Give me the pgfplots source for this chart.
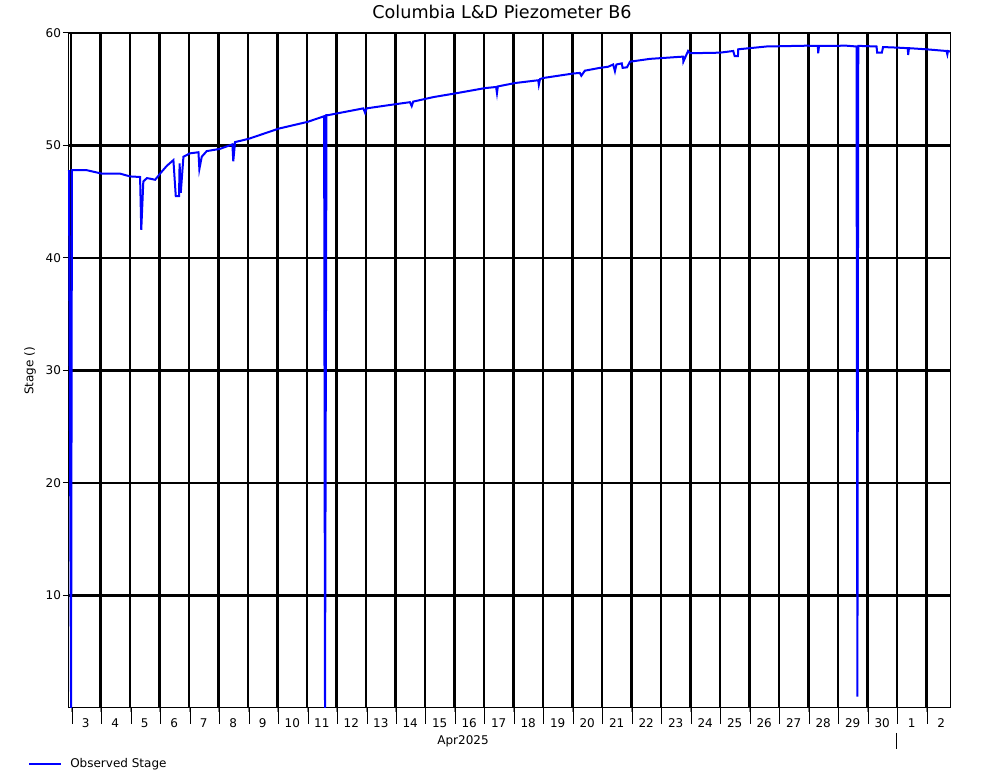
\documentclass[border=0pt]{standalone}
\usepackage{pgfplots}
\pgfplotsset{compat=1.18}
\usepackage{fontspec}
\setmainfont{DejaVu Sans}

\begin{document}
\begin{tikzpicture}
  \begin{axis}
    [
      at={(0,0)}, anchor=south west,
      scale only axis,
      width=660.75pt, height=506.25pt,
      xmin=-0.07, xmax=29.8,
      ymin=0, ymax=60,
      clip=false,
      axis line style={line width=0.75pt},
      xtick={0.5,1.5,...,29.5},
      xticklabels={3,4,5,6,7,8,9,10,11,12,13,14,15,16,17,18,19,20,21,22,23,24,25,26,27,28,29,30,1,2},
      minor xtick={0,1,...,29},
      xticklabel style={anchor=center, yshift=-6.75pt},
      ytick={10,20,30,40,50,60},
      yticklabel style={xshift=2pt},
      xtick pos=bottom, ytick pos=left,
      tick align=outside,
      major x tick style={draw=none},
      y tick style={line width=0.75pt, black},
      major tick length=4.5pt,
      xminorgrids=true, ymajorgrids=true,
      major grid style={black, line width=1.8pt},
      minor grid style={black, line width=1.8pt},
      tick label style={font=\fontsize{9}{11}\selectfont},
      /pgf/number format/assume math mode=true,
      legend style={at={(axis description cs:-0.0465,-0.083)}, anchor=west,
        draw=none, fill=none, inner sep=0pt,
        nodes={inner sep=0pt}, column sep=6pt,
        font=\fontsize{9}{11}\selectfont},
      legend image code/.code={\draw[#1] (0pt,0pt) -- (24pt,0pt);},
    ]
    \addplot[color={rgb,255:red,0;green,0;blue,255}, line width=1.5pt] coordinates {
      (-0.07,47.8) (0.0,0) (0.03,47.8) (0.54,47.8) (1.04,47.5) (1.66,47.5)
      (2.0,47.25) (2.34,47.2) (2.38,42.5) (2.45,46.8) (2.57,47.1) (2.68,47.05)
      (2.85,46.95) (3.05,47.6) (3.25,48.2) (3.47,48.7) (3.55,45.5) (3.66,45.5)
      (3.68,48.4) (3.72,45.8) (3.81,49.0) (4.03,49.3) (4.32,49.4) (4.35,47.9)
      (4.43,49.0) (4.6,49.5) (5.05,49.7) (5.47,50.1) (5.5,48.6) (5.56,50.3)
      (6.03,50.6) (7.04,51.5) (8.02,52.1) (8.58,52.6) (8.61,0) (8.66,52.7)
      (8.72,52.7) (9.91,53.3) (9.97,52.9) (10.02,53.3) (10.81,53.6)
      (11.49,53.85) (11.55,53.5) (11.6,53.9) (12.28,54.3) (13.07,54.65)
      (14.03,55.1) (14.41,55.2) (14.44,54.65) (14.47,55.25) (15.05,55.55)
      (15.84,55.8) (15.86,55.4) (15.9,55.9) (16.01,56.0) (17.03,56.4)
      (17.25,56.45) (17.3,56.2) (17.42,56.65) (17.93,56.9) (18.21,57.0)
      (18.38,57.2) (18.44,56.6) (18.49,57.2) (18.67,57.3) (18.7,56.9)
      (18.85,56.95) (18.95,57.45) (19.63,57.7) (20.75,57.9) (20.76,57.45)
      (20.92,58.4) (20.98,58.2) (22.0,58.25) (22.45,58.4) (22.5,57.95)
      (22.61,57.95) (22.62,58.55) (23.58,58.8) (24.94,58.87) (25.32,58.85)
      (25.33,58.2) (25.36,58.85) (26.29,58.87) (26.63,58.8) (26.66,1.0)
      (26.69,58.85) (26.75,58.85) (27.31,58.8) (27.33,58.25) (27.49,58.25)
      (27.53,58.75) (28.0,58.7) (28.37,58.65) (28.38,58.05) (28.41,58.65)
      (29.0,58.55) (29.68,58.4) (29.71,58.1) (29.73,58.4) (29.8,58.35)
    };
    \legend{Observed Stage}
    % day boundary ticks below the axis
    \pgfplotsinvokeforeach{0,1,...,29}{
      \draw[line width=0.75pt] ([xshift=0.75pt]axis cs:#1,0) -- ([xshift=0.75pt,yshift=-12pt]axis cs:#1,0);
    }
    \draw[line width=0.75pt] ([yshift=-18.75pt]axis cs:28,0) -- ([yshift=-30.75pt]axis cs:28,0);
    \node[font=\fontsize{9}{11}\selectfont] at ([yshift=-24.75pt]axis cs:13.29,0) {Apr2025};
  \end{axis}
  \node[font=\fontsize{13.2}{15}\selectfont] at (324.75pt,522pt) {Columbia L\&D Piezometer B6};
  \node[font=\fontsize{9}{11}\selectfont, rotate=90] at (-29.25pt,252.75pt) {Stage ()};
  \pgfresetboundingbox
  \path[use as bounding box] (-51.75pt,-54pt) rectangle (699pt,531pt);
\end{tikzpicture}
\end{document}
